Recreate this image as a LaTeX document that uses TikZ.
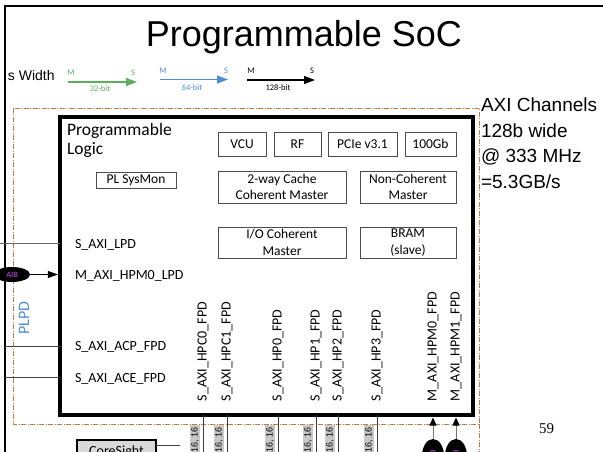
\documentclass[tikz,border=0pt]{standalone}
\usepackage{fontspec}
\setmainfont{Liberation Sans}
\newfontfamily\calfont{Carlito}
\newfontfamily\romfont{Liberation Serif}
\usepackage{tikz}
\usetikzlibrary{positioning,arrows.meta,shapes.geometric,calc}
\definecolor{DashBrown}{HTML}{C27A45}
\definecolor{MsGreen}{HTML}{5CAE5C}
\definecolor{MsBlue}{HTML}{4F8ED6}
\definecolor{AIBpurple}{HTML}{9A3FB0}
\definecolor{LaneGray}{HTML}{C8C8C8}

\begin{document}
\begin{tikzpicture}[x=1pt,y=-1pt,
  every node/.style={inner sep=0pt,outer sep=0pt},
  blk/.style={draw=black!70,line width=0.9pt,align=center,font=\calfont\fontsize{13.5}{16.5}\selectfont},
  port/.style={anchor=base west,font=\calfont\fontsize{14}{16}\selectfont},
  vport/.style={anchor=west,rotate=90,font=\calfont\fontsize{14}{16}\selectfont},
  lane/.style={fill=LaneGray,rotate=90,anchor=east,inner xsep=2pt,inner ysep=1.5pt,font=\fontsize{9}{10}\selectfont},
  aib/.style={ellipse,fill=black,text=AIBpurple,font=\calfont\bfseries\fontsize{8}{9}\selectfont},
  wire/.style={black!75,line width=0.7pt},
  tag/.style={font=\calfont\fontsize{8.5}{9}\selectfont},
  busar/.style={line width=1.3pt,-{Triangle[length=11pt,width=8pt]}},
  frame/.style={DashBrown,line width=0.8pt,dash pattern=on 5pt off 1.5pt on 1pt off 1.5pt}
]
\useasboundingbox (0,0) rectangle (603,452);
\clip (0,0) rectangle (603,452);

% slide edge and title
\draw[line width=1.6pt] (5,452) -- (5,6) -- (603,6);
\node[anchor=base,font=\fontsize{36}{40}\selectfont] (title) at (304,47) {Programmable SoC};

% bus width legend
\node[anchor=base west,font=\fontsize{14}{16}\selectfont] (bw) at (8,81) {s Width};
\coordinate (g0) at (68,82);
\coordinate (g1) at (137,82);
\coordinate (u0) at (160,79.5);
\coordinate (u1) at (228,79.5);
\coordinate (k0) at (247,80);
\coordinate (k1) at (315,80);
\draw[busar,MsGreen] (g0) -- (g1);
\draw[busar,MsBlue] (u0) -- (u1);
\draw[busar,black] (k0) -- (k1);
\node[tag,text=MsGreen] (gm) at (71,73) {M};
\node[tag,text=MsGreen] (gs) at (133,73) {S};
\node[tag,text=MsGreen] (gw) at (100,89) {32-bit};
\node[tag,text=MsBlue] (um) at (163,71) {M};
\node[tag,text=MsBlue] (us) at (226,71) {S};
\node[tag,text=MsBlue] (uw) at (192,87.5) {64-bit};
\node[tag] (km) at (251,71) {M};
\node[tag] (ks) at (312,71) {S};
\node[tag] (kw) at (278,88) {128-bit};

% dash-dot domain outline
\draw[frame] (13,108) rectangle (479,424);
\draw[frame] (479,424) -- (479,452);

% programmable logic block
\node[draw,line width=4.5pt,minimum width=413pt,minimum height=298pt] (pl) at (266.5,266) {};
\node[anchor=north west,align=left,font=\calfont\fontsize{17.5}{19.5}\selectfont] (pltxt) at (67,123) {Programmable\\Logic};

\node[blk,minimum width=48pt,minimum height=24pt] (vcu) at (242,144) {VCU};
\node[blk,minimum width=47pt,minimum height=24pt] (rf) at (297.5,144) {RF};
\node[blk,minimum width=69pt,minimum height=24pt] (pcie) at (362.5,144) {PCIe v3.1};
\node[blk,minimum width=51pt,minimum height=24pt] (eth) at (430.5,144) {100Gb};
\node[blk,minimum width=80pt,minimum height=16pt] (sysmon) at (136,180) {PL SysMon};
\node[blk,minimum width=128pt,minimum height=32pt] (cchm) at (282,187) {2-way Cache\\Coherent Master};
\node[blk,minimum width=96pt,minimum height=32pt] (ncm) at (408,187) {Non-Coherent\\Master};
\node[blk,minimum width=128pt,minimum height=31pt] (iocm) at (282,242.5) {I/O Coherent\\Master};
\node[blk,minimum width=96pt,minimum height=31pt] (bram) at (408,242.5) {BRAM\\(slave)};

% ports on the left side
\node[port] (lpd) at (75,248) {S\_AXI\_LPD};
\node[port] (hpmlpd) at (75,279) {M\_AXI\_HPM0\_LPD};
\node[port] (acp) at (75,350) {S\_AXI\_ACP\_FPD};
\node[port] (ace) at (75,382) {S\_AXI\_ACE\_FPD};

\node[rotate=90,font=\calfont\fontsize{16}{18}\selectfont,text=MsBlue] (plpd) at (24,318) {PLPD};

\coordinate (lpdin) at (0,243);
\coordinate (acpin) at (5,346);
\coordinate (acein) at (5,377);
\draw[wire,black!60] (lpdin) -- (lpdin -| pl.west);
\draw[wire] (acpin) -- (acpin -| pl.west);
\draw[wire] (acein) -- (acein -| pl.west);

\node[aib,minimum width=36pt,minimum height=15pt] (aibl) at (12,274.5) {AIB};
\draw[wire,black,shorten >=2.2pt,-{Triangle[length=10pt,width=7pt]}] (aibl) -- (aibl -| pl.west);

% ports on the bottom side
\node[vport] (hpc0) at (203,401) {S\_AXI\_HPC0\_FPD};
\node[vport] (hpc1) at (227,401) {S\_AXI\_HPC1\_FPD};
\node[vport] (hp0) at (278,401) {S\_AXI\_HP0\_FPD};
\node[vport] (hp1) at (316,401) {S\_AXI\_HP1\_FPD};
\node[vport] (hp2) at (338,401) {S\_AXI\_HP2\_FPD};
\node[vport] (hp3) at (377,401) {S\_AXI\_HP3\_FPD};
\node[vport] (hpm0) at (433,401) {M\_AXI\_HPM0\_FPD};
\node[vport] (hpm1) at (456,401) {M\_AXI\_HPM1\_FPD};

\coordinate (b0) at (203,452);
\coordinate (b1) at (227,452);
\coordinate (b2) at (278,452);
\coordinate (b3) at (316,452);
\coordinate (b4) at (338,452);
\coordinate (b5) at (377,452);
\draw[wire] (b0) -- (b0 |- pl.south);
\draw[wire] (b1) -- (b1 |- pl.south);
\draw[wire] (b2) -- (b2 |- pl.south);
\draw[wire] (b3) -- (b3 |- pl.south);
\draw[wire] (b4) -- (b4 |- pl.south);
\draw[wire] (b5) -- (b5 |- pl.south);

\node[lane] (l0) at (195,425) {16, 16};
\node[lane] (l1) at (219,425) {16, 16};
\node[lane] (l2) at (270,425) {16, 16};
\node[lane] (l3) at (308,425) {16, 16};
\node[lane] (l4) at (330,425) {16, 16};
\node[lane] (l5) at (369,425) {16, 16};

% AIB bridges into the master ports
\node[aib,rotate=90,minimum width=34pt,minimum height=22pt] (aib0) at (433,456) {AIB};
\node[aib,rotate=90,minimum width=34pt,minimum height=22pt] (aib1) at (456,456) {AIB};
\draw[wire,black!55,line width=1pt,shorten >=2.5pt,-{Triangle[length=8pt,width=7pt,black]}] (aib0) -- (aib0 |- pl.south);
\draw[wire,black!55,line width=1pt,shorten >=2.5pt,-{Triangle[length=8pt,width=7pt,black]}] (aib1) -- (aib1 |- pl.south);

% coresight below the block
\node[draw,line width=1.3pt,fill=black!15,anchor=north,minimum width=79pt,minimum height=24pt,font=\calfont\fontsize{14}{16}\selectfont] (cs) at (116.5,440) {CoreSight};
\coordinate (csout) at (180,445);
\draw[wire] (cs.east |- csout) -- (csout);

% side note
\node[anchor=north west,align=left,font=\fontsize{19}{25.5}\selectfont] (axi) at (481,98) {AXI Channels\\128b wide\\@ 333 MHz\\=5.3GB/s};
\node[anchor=base west,font=\romfont\fontsize{15}{18}\selectfont] (pg) at (539,433) {59};
\end{tikzpicture}
\end{document}
